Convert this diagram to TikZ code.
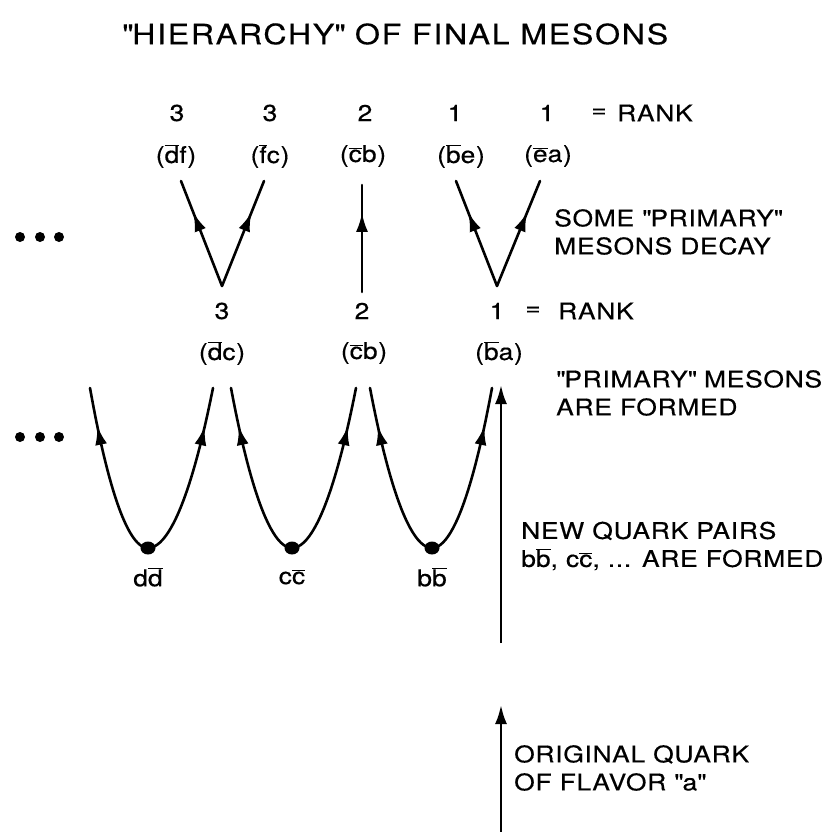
\documentclass[tikz,border=0pt]{standalone}
\usepackage{fontspec}
\setmainfont{TeX Gyre Heros}[FakeStretch=1.15,LetterSpace=3,FakeBold=0.4]
\usetikzlibrary{arrows.meta,decorations.markings,shapes.geometric}
\newcommand{\ob}[1]{\ensuremath{\overline{\mbox{#1}}}}
\newcommand{\qq}{\textquotedbl}

\begin{document}
\begin{tikzpicture}[x=1pt,y=-1pt,
  font=\fontsize{23}{28}\selectfont,
  every node/.style={inner sep=0pt},
  txt/.style={align=left,anchor=west},
  quark/.style={line width=2.6pt,line cap=round,postaction={decorate},
                decoration={markings,mark=at position #1 with
                {\arrow{Latex[length=19pt,width=12pt]}}}},
  quark/.default=0.7,
  flow/.style={line width=2.6pt,-{Latex[length=19pt,width=12pt]}},
  pairdot/.style={ellipse,fill=black,minimum width=15pt,minimum height=13pt},
  etcdot/.style={circle,fill=black,minimum size=10pt}
]
\useasboundingbox (0,0) rectangle (838,832);

% Title
\node[anchor=west] (title) at (122,34)
  {\fontsize{28}{32}\selectfont\addfontfeature{LetterSpace=6}\qq HIERARCHY\qq{} OF FINAL MESONS};

% --- Final mesons (top) ---
\node (r3a) at (177,113) {3};
\node (r3b) at (270,113) {3};
\node (r2)  at (365,113) {2};
\node (r1a) at (455,113) {1};
\node (r1b) at (547,113) {1};
\node (req) at (599,113) {=};
\node[anchor=west] (rrank) at (617,113) {RANK};

\node (mdf) at (176,156) {(\ob{d}f)};
\node (mfc) at (270,156) {(\ob{f}c)};
\node (mcb) at (363,156) {(\ob{c}b)};
\node (mbe) at (461,156) {(\ob{b}e)};
\node (mea) at (548,156) {(\ob{e}a)};

\coordinate (tdf) at (181,181);
\coordinate (tfc) at (264,181);
\coordinate (tcb) at (362,185);
\coordinate (tbe) at (456,181);
\coordinate (tea) at (540,181);
\coordinate (v3) at (222,286);
\coordinate (v2) at (362,292);
\coordinate (v1) at (497,286);

\draw[quark] (v3) -- (tdf);
\draw[quark] (v3) -- (tfc);
\draw[quark=0.74] (v2) -- (tcb);
\draw[quark] (v1) -- (tbe);
\draw[quark] (v1) -- (tea);

\node[etcdot] (e1) at (20,237) {};
\node[etcdot] (e2) at (40,237) {};
\node[etcdot] (e3) at (59,237) {};

\node[txt] (decay) at (554,232) {SOME \qq PRIMARY\qq\\MESONS DECAY};

% --- Primary mesons ---
\node (p3) at (222,311) {3};
\node (p2) at (362,311) {2};
\node (p1) at (497,311) {1};
\node (peq) at (533,311) {=};
\node[anchor=west] (prank) at (558,311) {RANK};

\node (mdc) at (222,353) {(\ob{d}c)};
\node (mcb2) at (364,353) {(\ob{c}b)};
\node (mba) at (499,353) {(\ob{b}a)};

\node[txt] (formed) at (556,393) {\qq PRIMARY\qq{} MESONS\\ARE FORMED};

% --- New quark pairs ---
\node[pairdot] (qd) at (148,548) {};
\node[pairdot] (qc) at (292,548) {};
\node[pairdot] (qb) at (432,548) {};

\coordinate (ud1) at (90,388);
\coordinate (ud2) at (213,388);
\coordinate (uc1) at (231,388);
\coordinate (uc2) at (356,388);
\coordinate (ub1) at (370,388);
\coordinate (ub2) at (492,388);

\draw[quark=0.78] (qd.center) parabola (ud1);
\draw[quark=0.78] (qd.center) parabola (ud2);
\draw[quark=0.78] (qc.center) parabola (uc1);
\draw[quark=0.78] (qc.center) parabola (uc2);
\draw[quark=0.78] (qb.center) parabola (ub1);
\draw[quark=0.78] (qb.center) parabola (ub2);

\node (ldd) at (148,577) {d\ob{d}};
\node (lcc) at (292,577) {c\ob{c}};
\node (lbb) at (432,577) {b\ob{b}};

\node[etcdot] (f1) at (20,437) {};
\node[etcdot] (f2) at (40,437) {};
\node[etcdot] (f3) at (59,437) {};

\node[txt] (pairs) at (521,546) {NEW QUARK PAIRS\\b\ob{b}, c\ob{c}, ... ARE FORMED};

% --- Original quark ---
\coordinate (qa0) at (501,643);
\coordinate (qa1) at (501,385);
\draw[flow] (qa0) -- (qa1);

\coordinate (oa0) at (501,832);
\coordinate (oa1) at (501,705);
\draw[flow] (oa0) -- (oa1);

\node[txt] (orig) at (514,768) {ORIGINAL QUARK\\OF FLAVOR \qq a\qq};
\end{tikzpicture}
\end{document}
